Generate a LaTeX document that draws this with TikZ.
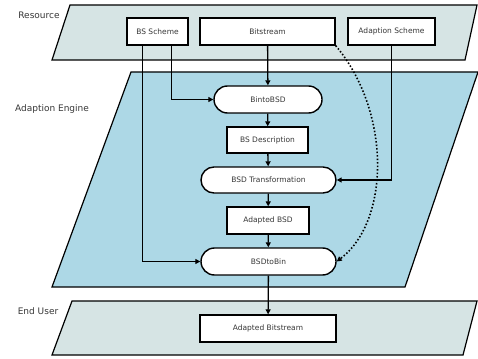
\documentclass[tikz,border=0pt]{standalone}
\usepackage{fontspec}
\setmainfont{DejaVu Sans}
\usetikzlibrary{arrows.meta,shapes.misc}
\definecolor{resfill}{RGB}{214,228,228}
\definecolor{engfill}{RGB}{173,216,230}
\definecolor{txt}{RGB}{55,55,55}
\begin{document}
\begin{tikzpicture}[x=1pt,y=-1pt,
  layer/.style={draw=black,line width=1.2pt},
  lbl/.style={font=\fontsize{9}{10}\selectfont,text=txt,inner sep=0pt},
  box/.style={draw=black,line width=1.4pt,fill=white,rectangle,inner sep=0pt,
    font=\fontsize{7.5}{9}\selectfont,text=txt},
  pill/.style={box,rounded rectangle},
  arr/.style={line width=1.3pt,-{Triangle[length=5pt,width=5pt]}},
  dotarr/.style={line width=1.6pt,dash pattern=on 1.5pt off 2pt,
    -{Triangle[length=5pt,width=5pt]}}]
\useasboundingbox (0,0) rectangle (478,358);

% the three layers
\draw[layer,fill=resfill] (70,5) -- (477,5) -- (465,60) -- (52,60) -- cycle;
\draw[layer,fill=engfill] (131,72) -- (478,72) -- (405,287) -- (52,287) -- cycle;
\draw[layer,fill=resfill] (72,301) -- (477,301) -- (463,355) -- (52,355) -- cycle;

\node[lbl] (lres) at (39,15) {Resource};
\node[lbl] (leng) at (52,109) {Adaption Engine};
\node[lbl] (lend) at (38,311) {End User};

% resource items
\node[box,minimum width=61,minimum height=27] (bs) at (157.5,31.5) {BS Scheme};
\node[box,minimum width=135,minimum height=27] (bit) at (267.5,31.5) {Bitstream};
\node[box,minimum width=87,minimum height=27] (ads) at (391.5,31.5) {Adaption Scheme};

% engine chain
\node[pill,minimum width=108,minimum height=27] (b2b) at (268,99.5) {BintoBSD};
\node[box,minimum width=81,minimum height=26] (bsd) at (267.5,140) {BS Description};
\node[pill,minimum width=135,minimum height=26] (tr) at (268.5,180) {BSD Transformation};
\node[box,minimum width=82,minimum height=27] (abd) at (268,220.5) {Adapted BSD};
\node[pill,minimum width=135,minimum height=27] (b2bin) at (268.5,261.5) {BSDtoBin};

% end user item
\node[box,minimum width=136,minimum height=27] (abs) at (268,328.5) {Adapted Bitstream};

% connectors
\draw[arr] (bit) -- (b2b);
\draw[arr] (b2b) -- (bsd);
\draw[arr] (bsd) -- (tr);
\draw[arr] (tr) -- (abd);
\draw[arr] (abd) -- (b2bin);
\draw[arr] (b2bin) -- (abs);
\draw[arr] ([xshift=45]bs.south west) |- (b2b.west);
\draw[arr] ([xshift=16]bs.south west) |- (b2bin.west);
\draw[arr] (ads.south) |- (tr.east);
\draw[dotarr] (bit.south east) .. controls +(55,65) and +(54,-41) .. (b2bin.east);
\end{tikzpicture}
\end{document}
